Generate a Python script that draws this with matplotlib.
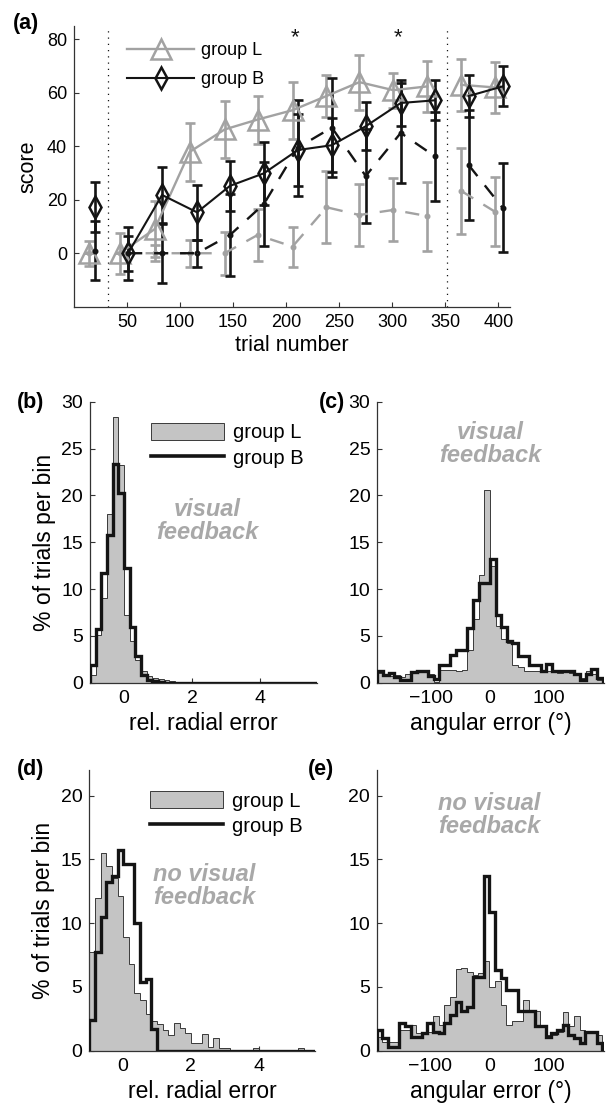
import numpy as np
import matplotlib.pyplot as plt
from matplotlib.patches import Patch
from matplotlib.lines import Line2D

plt.rcParams['font.family'] = ['Liberation Sans', 'DejaVu Sans']

GRAY = '#a2a2a2'
BLACK = '#141414'
FILL = '#c4c4c4'
TXT_GRAY = '#a8a8a8'

# ---- panel (a): learning curves ----
xL = [14, 43, 76, 109, 142, 173, 206, 238, 269, 301, 333, 365, 397]
xB = [20, 51, 83, 116, 147, 179, 211, 243, 275, 308, 340, 372, 404]

L_vis = [0, 0, 9, 37.9, 46.3, 50, 53.5, 58.8, 64, 61, 62.4, 63, 62]
L_vis_err = [4.7, 7.6, 10.5, 11, 10.8, 9, 10.7, 7.7, 10.3, 6.5, 9.5, 9.7, 9.4]
B_vis = [17.4, 0, 21.8, 15.3, 25.2, 29.9, 38.6, 40.4, 47.5, 56.2, 57.2, 58.8, 62.4]
B_vis_err = [9.4, 6.6, 10.5, 10.2, 9.4, 11.8, 13.3, 10, 9, 8.7, 7.5, 8, 7.5]
L_novis = [0, 0, 0, 0, 0, 6.8, 2.5, 17.2, 14.3, 16.2, 13.9, 23.3, 15.5]
L_novis_err = [0, 0, 3, 5, 8, 9.7, 7.5, 13.4, 11.7, 11.8, 12.9, 16, 12.9]
B_novis = [1, 0, 0, 0, 6.8, 18.4, 39.5, 47, 28.9, 45, 36.3, 33, 17]
B_novis_err = [11, 10, 11, 5, 15.5, 15.7, 18, 18.5, 17.5, 18.6, 16.6, 20.7, 16.6]

blocks = [[0], list(range(1, 11)), [11, 12]]
phase_lines = [32, 352]
stars = [208, 305]

# ---- histograms ----
rad_edges = np.linspace(-1, 5.667, 41)
ang_edges = np.linspace(-190, 190, 41)

b_L = [0.8, 5.1, 9.0, 18.0, 28.4, 23.2, 7.2, 4.4, 2.4, 1.2,
       0.7, 0.5, 0.4, 0.3, 0.2, 0.1, 0.1, 0, 0, 0,
       0, 0, 0, 0, 0, 0, 0, 0, 0, 0,
       0, 0, 0, 0, 0, 0, 0, 0, 0, 0]
b_B = [1.9, 5.7, 11.7, 15.8, 23.4, 20.3, 12.2, 5.9, 2.8, 0.8,
       0.3, 0.2, 0.1, 0, 0, 0, 0, 0, 0, 0,
       0, 0, 0, 0, 0, 0, 0, 0, 0, 0,
       0, 0, 0, 0, 0, 0, 0, 0, 0, 0]

c_L = [1.0, 0.9, 0.7, 0.8, 0.6, 0.9, 1.0, 1.1, 1.4, 0.9,
       0.1, 1.4, 1.4, 1.4, 1.3, 1.4, 3.5, 6.8, 11.5, 20.6,
       12.5, 6.1, 4.7, 4.2, 1.9, 1.7, 1.2, 1.2, 1.2, 1.4,
       1.3, 1.1, 1.0, 1.1, 1.0, 0.9, 0.5, 1.3, 0.9, 0.3]
c_B = [1.2, 0.8, 1.0, 0.6, 0.3, 0.3, 1.1, 1.2, 1.2, 0.7,
       0.35, 1.9, 1.9, 3.0, 3.5, 3.5, 5.8, 8.8, 10.6, 10.6,
       13.2, 7.2, 5.9, 4.5, 4.2, 2.9, 2.9, 1.9, 1.9, 1.3,
       2.0, 1.2, 1.2, 1.3, 1.2, 0.9, 0.3, 0.9, 1.5, 0.5]

d_L = [7.75, 12.0, 15.5, 14.5, 13.5, 12.1, 8.9, 6.8, 4.5, 4.0,
       2.9, 2.3, 2.1, 1.6, 1.2, 2.2, 1.8, 1.4, 0.6, 0.6,
       1.3, 0.3, 1.0, 0.2, 0.2, 0, 0, 0, 0, 0.2,
       0, 0, 0, 0, 0, 0, 0, 0.2, 0, 0]
d_B = [2.4, 7.75, 10.5, 13.2, 13.7, 15.7, 14.6, 14.6, 10.0, 5.4,
       5.6, 1.7, 0, 0, 0, 0, 0, 0, 0, 0,
       0, 0, 0, 0, 0, 0, 0, 0, 0, 0,
       0, 0, 0, 0, 0, 0, 0, 0, 0, 0]

e_L = [1.1, 0.7, 0.7, 0.7, 1.6, 1.6, 2.0, 1.4, 1.4, 1.5,
       2.7, 2.0, 3.6, 4.2, 6.4, 6.5, 6.2, 5.9, 6.1, 7.0,
       5.0, 5.5, 3.6, 2.0, 2.3, 2.3, 4.0, 3.1, 3.1, 2.0,
       1.2, 1.2, 1.5, 3.0, 1.9, 2.7, 1.6, 1.4, 1.4, 1.2]
e_B = [1.6, 1.0, 0.3, 0.3, 2.2, 1.9, 1.1, 1.1, 1.4, 2.2,
       1.5, 1.4, 2.2, 2.8, 3.8, 3.1, 3.4, 5.8, 5.8, 13.7,
       10.9, 6.3, 5.7, 4.75, 4.75, 3.1, 3.1, 3.1, 1.9, 1.9,
       1.1, 1.4, 1.6, 2.0, 1.2, 1.0, 0.6, 1.5, 1.5, 0.6]

W, H = 611, 1113
fig = plt.figure(figsize=(W / 100, H / 100), dpi=100)


def box(l, r, t, b):
    return [l / W, 1 - b / H, (r - l) / W, (b - t) / H]


def style(ax, fs):
    for s in ['top', 'right']:
        ax.spines[s].set_visible(False)
    for s in ['left', 'bottom']:
        ax.spines[s].set_color('#333333')
        ax.spines[s].set_linewidth(0.9)
    ax.tick_params(direction='in', length=3.5, width=0.8, labelsize=fs,
                   color='#333333', pad=5)


# panel (a)
ax = fig.add_axes(box(74, 510, 26, 306.7))
style(ax, 13)
for xp in phase_lines:
    ax.axvline(xp, color=BLACK, ls=(0, (1, 4)), lw=0.9)

def draw_series(x, y, err, color, ls, marker, ms, lw):
    ax.errorbar(x, y, yerr=err, fmt='none', ecolor=color, elinewidth=1.9,
                capsize=3.4, capthick=1.9, zorder=3)
    for idx in blocks:
        xs = [x[i] for i in idx]
        ys = [y[i] for i in idx]
        ax.plot(xs, ys, color=color, ls=ls, lw=lw, marker=marker, ms=ms,
                mfc='none', mew=1.8, zorder=4)

draw_series(xL, L_novis, L_novis_err, GRAY, (0, (6, 5)), '.', 5, 1.7)
draw_series(xL, L_vis, L_vis_err, GRAY, '-', '^', 14, 1.7)
draw_series(xB, B_novis, B_novis_err, BLACK, (0, (6, 5)), '.', 5, 1.7)
draw_series(xB, B_vis, B_vis_err, BLACK, '-', 'd', 11, 1.5)

for xs in stars:
    ax.text(xs, 80.5, '*', ha='center', va='center', fontsize=16, color=BLACK)

ax.set_xlim(0, 411)
ax.set_ylim(-20, 85)
ax.set_xticks([50, 100, 150, 200, 250, 300, 350, 400])
ax.set_yticks([0, 20, 40, 60, 80])
ax.set_xlabel('trial number', fontsize=15.5, labelpad=3)
ax.set_ylabel('score', fontsize=15.5, labelpad=6)
hA = [Line2D([], [], color=GRAY, lw=1.7, marker='^', ms=14, mfc='none', mew=1.8),
      Line2D([], [], color=BLACK, lw=1.5, marker='d', ms=11, mfc='none', mew=1.8)]
ax.legend(hA, ['group L', 'group B'], loc='upper left', bbox_to_anchor=(0.085, 1.0),
          frameon=False, fontsize=13, handlelength=3.7, labelspacing=0.65,
          handletextpad=0.4)


def hist_panel(rect, edges, gray, black, xlim, ylim, xticks, yticks, xlabel,
               ylabel, note, note_xy, legend):
    ax = fig.add_axes(rect)
    style(ax, 14)
    ax.stairs(gray, edges, fill=True, color=FILL, lw=0, zorder=2)
    ax.stairs(gray, edges, color='#3a3a3a', lw=0.7, baseline=0, zorder=3)
    ax.stairs(black, edges, color=BLACK, lw=2.4, baseline=0, zorder=4)
    ax.set_xlim(*xlim)
    ax.set_ylim(*ylim)
    ax.set_xticks(xticks)
    ax.set_yticks(yticks)
    ax.set_xlabel(xlabel, fontsize=16.5, labelpad=4)
    if ylabel:
        ax.set_ylabel(ylabel, fontsize=16.5, labelpad=4)
    ax.text(note_xy[0], note_xy[1], note, ha='center', va='center',
            fontsize=17, fontweight='bold', style='italic', color=TXT_GRAY,
            linespacing=1.0)
    if legend:
        h = [Patch(facecolor=FILL, edgecolor='#3a3a3a', lw=0.7),
             Line2D([], [], color=BLACK, lw=2.6)]
        ax.legend(h, ['group L', 'group B'], loc='upper left',
                  bbox_to_anchor=(0.19, 0.99), frameon=False, fontsize=14.5,
                  handlelength=3.6, handleheight=0.95, labelspacing=0.3,
                  handletextpad=0.45)
    return ax


hist_panel(box(90, 316.7, 401.7, 682.7), rad_edges, b_L, b_B, (-1, 5.667), (0, 30),
           [0, 2, 4], [0, 5, 10, 15, 20, 25, 30], 'rel. radial error',
           '% of trials per bin', 'visual\nfeedback', (2.45, 17.3), True)
hist_panel(box(377.3, 604.3, 401.7, 682.7), ang_edges, c_L, c_B, (-190, 193), (0, 30),
           [-100, 0, 100], [0, 5, 10, 15, 20, 25, 30], 'angular error (°)',
           None, 'visual\nfeedback', (0, 25.5), False)
hist_panel(box(89.3, 315, 770, 1050.7), rad_edges, d_L, d_B, (-1, 5.667), (0, 22),
           [0, 2, 4], [0, 5, 10, 15, 20], 'rel. radial error',
           '% of trials per bin', 'no visual\nfeedback', (2.4, 12.9), True)
hist_panel(box(376.7, 604, 770, 1050.7), ang_edges, e_L, e_B, (-190, 193), (0, 22),
           [-100, 0, 100], [0, 5, 10, 15, 20], 'angular error (°)',
           None, 'no visual\nfeedback', (0, 18.5), False)

for lab, x, y in [('(a)', 0.021, 0.988), ('(b)', 0.027, 0.648), ('(c)', 0.522, 0.648),
                  ('(d)', 0.027, 0.318), ('(e)', 0.504, 0.318)]:
    fig.text(x, y, lab, fontsize=15.5, fontweight='bold', va='top', ha='left')

fig.savefig('out.png', dpi=100)
